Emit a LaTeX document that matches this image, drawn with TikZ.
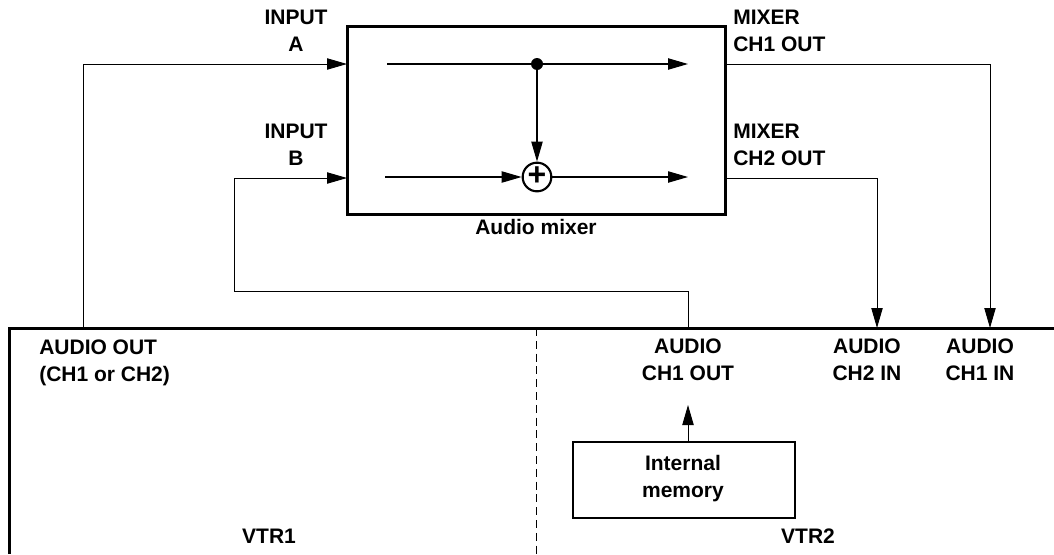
\documentclass[tikz,border=0pt]{standalone}
\usepackage{fontspec}
\setmainfont{Liberation Sans}
\usetikzlibrary{arrows.meta}
\tikzset{
  px/.style={x=0.75pt,y=-0.75pt},
  lbl/.style={font=\fontsize{15.75pt}{20pt}\selectfont\bfseries,align=center,inner sep=0pt,text=black},
  lbll/.style={lbl,align=left},
  wire/.style={line width=0.7pt,black},
  inwire/.style={line width=0.85pt,black},
  tipp/.style={-{Triangle[length=15pt,width=8.5pt]}},
  arr/.style={wire,tipp},
  inarr/.style={inwire,tipp},
  heavy/.style={line width=2.25pt,black},
  blockbox/.style={draw=black,line width=2.4pt,fill=none,inner sep=0pt,minimum width=283pt,minimum height=141.5pt},
  membox/.style={draw=black,line width=0.9pt,inner sep=0pt,minimum width=166.5pt,minimum height=57pt,lbl},
  sumnode/.style={circle,draw=black,line width=1.6pt,fill=white,inner sep=0pt,minimum size=21.5pt},
  plusnode/.style={inner sep=0pt,font=\fontsize{24pt}{24pt}\selectfont\bfseries},
  jdot/.style={circle,fill=black,inner sep=0pt,minimum size=9pt},
}
\begin{document}
\begin{tikzpicture}[px]
\useasboundingbox (0,0) rectangle (1054,554);
% VTR frame
\coordinate (vtrL) at (9.5,554);
\coordinate (vtrC) at (9.5,328.5);
\coordinate (vtrR) at (1054,328.5);
\draw[heavy] (vtrL) -- (vtrC) -- (vtrR);
\coordinate (divT) at (536,328);
\coordinate (divB) at (536,554);
\draw[line width=0.75pt,black,dash pattern=on 6pt off 3.6pt] (divT) -- (divB);
% mixer
\node[blockbox] (mixer) at (536.5,120.5) {};
\node[sumnode] (sum) at (537,177) {};
\node[plusnode] (plus) at (537,176) {+};
\node[jdot] (dot) at (537,64) {};
\coordinate (inA) at (387,64);
\coordinate (outA) at (688,64);
\coordinate (inB) at (385,177);
\coordinate (outB) at (688,177);
\draw[inarr] (inA) -- (outA);
\draw[inarr] (dot) -- (sum);
\draw[inarr] (inB) -- (sum);
\draw[inarr] (sum) -- (outB);
% external wiring
\coordinate (a0) at (83,328);
\coordinate (a1) at (347,64);
\draw[arr] (a0) |- (a1);
\coordinate (b0) at (688,328);
\coordinate (b1) at (234,291);
\coordinate (b2) at (347,178);
\draw[arr] (b0) |- (b1) |- (b2);
\coordinate (c0) at (726,64);
\coordinate (c1) at (990,328);
\draw[arr] (c0) -| (c1);
\coordinate (d0) at (726,178);
\coordinate (d1) at (877,328);
\draw[arr] (d0) -| (d1);
% memory
\node[membox] (mem) at (684,480) {};
\node[lbl] (memtext) at (683,478.5) {Internal\\memory};
\coordinate (memTop) at (688,442);
\coordinate (memArr) at (688,405);
\draw[arr] (memTop) -- (memArr);
% labels
\node[lbl] (lblA) at (296,31) {INPUT\\A};
\node[lbl] (lblB) at (296,145) {INPUT\\B};
\node[lbll,anchor=west] (lblC) at (733,31) {MIXER\\CH1 OUT};
\node[lbll,anchor=west] (lblD) at (733,145) {MIXER\\CH2 OUT};
\node[lbl] (lblM) at (536,227) {Audio mixer};
\node[lbll,anchor=west] (lblO) at (39,363) {AUDIO OUT\\(CH1 or CH2)};
\node[lbl] (lblE) at (688,360) {AUDIO\\CH1 OUT};
\node[lbl] (lblF) at (867,360) {AUDIO\\CH2 IN};
\node[lbl] (lblG) at (980,360) {AUDIO\\CH1 IN};
\node[lbl] (lblV1) at (269,536) {VTR1};
\node[lbl] (lblV2) at (808,536) {VTR2};
\end{tikzpicture}
\end{document}
